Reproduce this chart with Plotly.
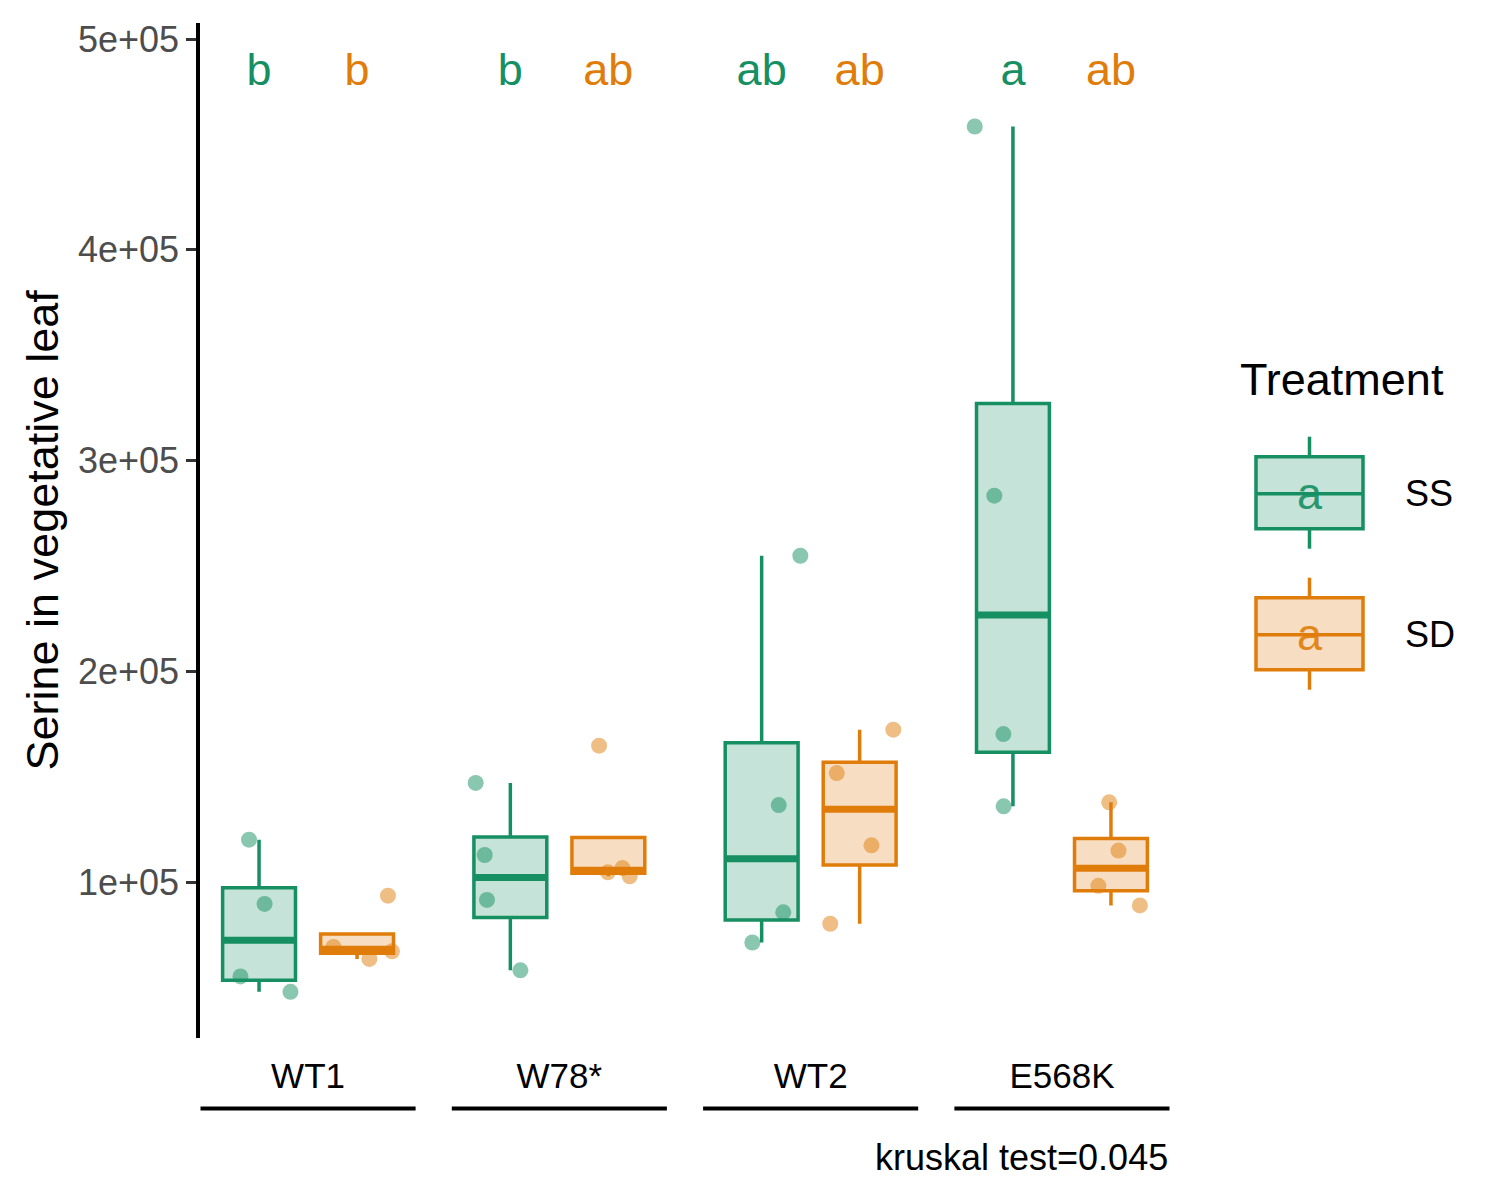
import numpy as np
import plotly.graph_objects as go

genotypes = ["WT1", "W78*", "WT2", "E568K"]

# serine values, one list per genotype
ss_values = [
    [120100, 89600, 55200, 47900],
    [147000, 112800, 91500, 58100],
    [254800, 136500, 85600, 71300],
    [458500, 283300, 170200, 135900],
]
sd_values = [
    [93500, 69200, 63500, 67100],
    [164700, 104600, 106600, 102700],
    [172300, 151700, 117400, 80200],
    [137800, 114900, 98200, 88900],
]
# horizontal jitter of the points (x units), as seen in the figure
ss_jitter = [
    [-0.040, 0.022, -0.074, 0.125],
    [-0.138, -0.102, -0.093, 0.040],
    [0.154, 0.068, 0.086, -0.037],
    [-0.152, -0.074, -0.038, -0.037],
]
sd_jitter = [
    [0.123, -0.094, 0.049, 0.139],
    [-0.037, -0.002, 0.056, 0.085],
    [0.134, -0.091, 0.047, -0.117],
    [-0.007, 0.030, -0.050, 0.115],
]
ss_letters = ["b", "b", "ab", "a"]
sd_letters = ["b", "ab", "ab", "ab"]
letter_y = 483600
kruskal_p = 0.045

GREEN = "#168F62"
ORANGE = "#E07D0A"
FONT = "Liberation Sans, Arial, sans-serif"
DODGE = 0.195
BOXW = 0.29

# plot area in page pixels (the html body adds an 8px offset)
L, R, T, B = 200, 1170, 23.3, 1038.3
PAD = 8


def px(xp, yp):
    return (xp - L) / (R - L), (B - yp) / (B - T)


def rgba(hex_col, a):
    h = hex_col.lstrip("#")
    return "rgba(%d,%d,%d,%s)" % (int(h[0:2], 16), int(h[2:4], 16), int(h[4:6], 16), a)


def box_stats(v):
    v = np.asarray(v, dtype=float)
    q1, med, q3 = np.percentile(v, [25, 50, 75])
    iqr = q3 - q1
    lo = v[v >= q1 - 1.5 * iqr].min()
    hi = v[v <= q3 + 1.5 * iqr].max()
    return q1, med, q3, min(lo, q1), max(hi, q3)


fig = go.Figure()

for values, jitter, letters, col, sign in [
    (ss_values, ss_jitter, ss_letters, GREEN, -1),
    (sd_values, sd_jitter, sd_letters, ORANGE, 1),
]:
    for i, v in enumerate(values):
        pos = i + 1 + sign * DODGE
        q1, med, q3, lo, hi = box_stats(v)
        fig.add_trace(go.Box(x=[pos], q1=[q1], median=[med], q3=[q3],
                             lowerfence=[lo], upperfence=[hi], width=BOXW, whiskerwidth=0,
                             fillcolor=rgba(col, 0.25), line=dict(color=col, width=3.5),
                             boxpoints=False, showlegend=False, hoverinfo="skip"))
        # thicker median bar like ggplot
        fig.add_trace(go.Scatter(x=[pos - BOXW / 2, pos + BOXW / 2], y=[med, med], mode="lines",
                                 line=dict(color=col, width=7), showlegend=False, hoverinfo="skip"))
        fig.add_trace(go.Scatter(x=[pos + j for j in jitter[i]], y=v, mode="markers",
                                 marker=dict(size=16, color=rgba(col, 0.5), line=dict(width=0)),
                                 showlegend=False))
    fig.add_trace(go.Scatter(x=[i + 1 + sign * DODGE for i in range(len(letters))],
                             y=[letter_y] * len(letters), mode="text", text=letters,
                             textposition="middle center",
                             textfont=dict(family=FONT, size=45, color=col),
                             showlegend=False, hoverinfo="skip"))

shapes = []
annotations = []

# group underlines below the x labels
for i in range(len(genotypes)):
    shapes.append(dict(type="line", xref="x", yref="paper", x0=i + 1 - 0.428, x1=i + 1 + 0.428,
                       y0=px(0, 1108.7)[1], y1=px(0, 1108.7)[1],
                       line=dict(color="black", width=4)))

# legend drawn by hand to look like the ggplot keys
for col, lab, ymid in [(GREEN, "SS", 494), (ORANGE, "SD", 635)]:
    x0, y0 = px(1256, ymid - 37)
    x1, y1 = px(1363, ymid + 35)
    shapes.append(dict(type="rect", xref="paper", yref="paper", x0=x0, x1=x1, y0=y0, y1=y1,
                       fillcolor=rgba(col, 0.25), line=dict(color=col, width=3.5)))
    xc = px(1309.5, 0)[0]
    shapes.append(dict(type="line", xref="paper", yref="paper", x0=xc, x1=xc,
                       y0=px(0, ymid - 57)[1], y1=y0, line=dict(color=col, width=3.5)))
    shapes.append(dict(type="line", xref="paper", yref="paper", x0=xc, x1=xc,
                       y0=y1, y1=px(0, ymid + 55)[1], line=dict(color=col, width=3.5)))
    shapes.append(dict(type="line", xref="paper", yref="paper", x0=x0, x1=x1,
                       y0=px(0, ymid)[1], y1=px(0, ymid)[1], line=dict(color=col, width=3.5)))
    annotations.append(dict(text="a", xref="paper", yref="paper", x=xc, y=px(0, ymid)[1],
                            xanchor="center", yanchor="middle", showarrow=False,
                            font=dict(family=FONT, size=45, color=col), opacity=0.9))
    annotations.append(dict(text=lab, xref="paper", yref="paper", x=px(1403, 0)[0], y=px(0, ymid)[1],
                            xanchor="left", yanchor="middle", showarrow=False,
                            font=dict(family=FONT, size=36, color="black")))

annotations.append(dict(text="Treatment", xref="paper", yref="paper", x=px(1238, 0)[0],
                        y=px(0, 380)[1], xanchor="left", yanchor="middle", showarrow=False,
                        font=dict(family=FONT, size=45, color="black")))
annotations.append(dict(text="Serine in vegetative leaf", xref="paper", yref="paper",
                        x=px(42, 0)[0], y=0.5, xanchor="center", yanchor="middle",
                        textangle=-90, showarrow=False,
                        font=dict(family=FONT, size=45, color="black")))
annotations.append(dict(text="kruskal test=%s" % kruskal_p, xref="paper", yref="paper",
                        x=1, y=px(0, 1158)[1], xanchor="right", yanchor="middle", showarrow=False,
                        font=dict(family=FONT, size=36, color="black")))

fig.update_layout(
    width=1500, height=1200,
    margin=dict(l=L - PAD, r=1500 - R + PAD, t=T - PAD, b=1200 - B + PAD),
    plot_bgcolor="white", paper_bgcolor="white",
    font=dict(family=FONT),
    showlegend=False,
    shapes=shapes,
    annotations=annotations,
    xaxis=dict(range=[0.57, 4.43], tickvals=[1, 2, 3, 4], ticktext=genotypes,
               showgrid=False, zeroline=False, showline=False,
               ticks="outside", ticklen=7, tickcolor="rgba(0,0,0,0)",
               tickfont=dict(family=FONT, size=35, color="black")),
    yaxis=dict(range=[25980, 507600], tickvals=[100000, 200000, 300000, 400000, 500000],
               ticktext=["1e+05", "2e+05", "3e+05", "4e+05", "5e+05"],
               showgrid=False, zeroline=False, showline=True, linecolor="black", linewidth=3.5,
               ticks="outside", ticklen=10, tickwidth=3, tickcolor="#333333",
               tickfont=dict(family=FONT, size=36, color="#4D4D4D")),
)

fig.write_html("out.html")
